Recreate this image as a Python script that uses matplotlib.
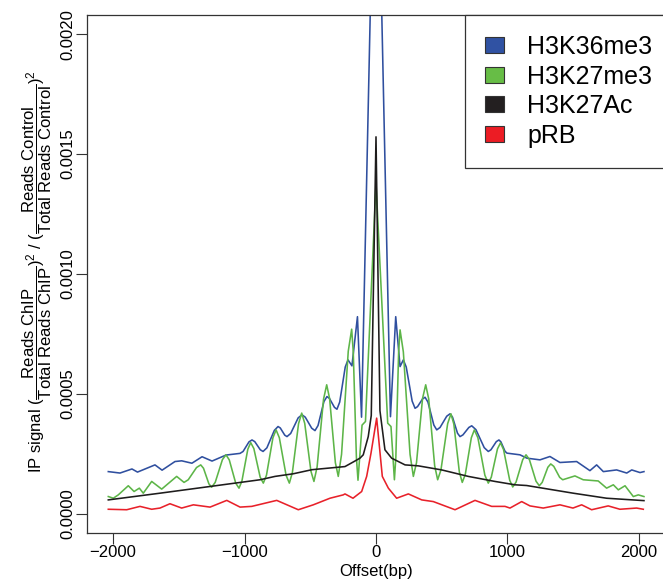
import numpy as np
import matplotlib
matplotlib.use("Agg")
import matplotlib.pyplot as plt
import matplotlib.patches as mpatches

plt.rcParams['font.family'] = ['Liberation Sans', 'DejaVu Sans']
plt.rcParams['mathtext.fontset'] = 'custom'
plt.rcParams['mathtext.rm'] = 'Liberation Sans'
plt.rcParams['mathtext.it'] = 'Liberation Sans:italic'
plt.rcParams['mathtext.bf'] = 'Liberation Sans:bold'

# offsets in bp, signal in units of 1e-4
k36_x = [-2036, -1947, -1856, -1814, -1681, -1627, -1529, -1478, -1400, -1323, -1247,
         -1141, -1034, -1011, -966, -943, -922, -880, -859, -830, -773, -745, -728, -694,
         -677, -649, -592, -563, -538, -489, -464, -441, -396, -373, -354, -316, -297,
         -276, -234, -213, -183, -141, -110, 0, 110, 150, 183, 208, 230, 275, 297, 316,
         354, 373, 395, 440, 462, 487, 538, 563, 582, 620, 639, 661, 706, 728, 760, 823,
         854, 874, 915, 935, 950, 981, 996, 1095, 1148, 1247, 1323, 1399, 1526, 1627,
         1678, 1729, 1830, 1907, 1945, 2008, 2038]
k36_y = [1.76, 1.70, 1.87, 1.74, 2.04, 1.82, 2.18, 2.21, 2.11, 2.38, 2.20,
         2.45, 2.52, 2.60, 3.00, 3.08, 3.01, 2.67, 2.60, 2.75, 3.48, 3.64, 3.58, 3.28,
         3.22, 3.35, 4.00, 4.13, 4.03, 3.57, 3.47, 3.68, 4.68, 4.89, 4.81, 4.44, 4.36,
         4.66, 6.12, 6.42, 6.17, 8.22, 4.03, 32.0, 4.05, 8.22, 6.14, 6.42, 6.12, 4.70, 4.40, 4.47,
         4.79, 4.86, 4.66, 3.70, 3.50, 3.60, 4.07, 4.17, 4.03, 3.36, 3.22, 3.29, 3.60, 3.67, 3.51, 2.76,
         2.60, 2.67, 3.01, 3.08, 3.00, 2.61, 2.53, 2.46, 2.32, 2.25, 2.39, 2.14, 2.18, 1.80,
         2.04, 1.76, 1.83, 1.70, 1.83, 1.72, 1.76]

k27me3_x = [-2036, -1998, -1960, -1884, -1840, -1800, -1770, -1706, -1630, -1516, -1460,
            -1428, -1365, -1333, -1312, -1271, -1250, -1223, -1168, -1141, -1116, -1067,
            -1042, -1020, -975, -953, -929, -881, -857, -833, -784, -760, -735, -684,
            -659, -636, -589, -565, -542, -495, -472, -448, -399, -375, -353, -309,
            -287, -262, -211, -185, -173, -149, -137, -106, -80, 0, 89, 114, 140, 151,
            172, 183, 208, 259, 284, 308, 354, 378, 401, 446, 469, 494, 545, 570, 592,
            634, 656, 679, 725, 748, 775, 828, 854, 877, 924, 947, 970, 1017, 1040,
            1065, 1116, 1141, 1166, 1217, 1242, 1264, 1307, 1329, 1352, 1397, 1420,
            1513, 1576, 1690, 1754, 1805, 1843, 1894, 1957, 1995, 2038]
k27me3_y = [0.72, 0.65, 0.79, 1.17, 0.93, 1.07, 0.86, 1.35, 1.03, 1.56, 1.31,
            1.42, 1.93, 2.04, 1.90, 1.25, 1.11, 1.31, 2.26, 2.46, 2.25, 1.28,
            1.07, 1.36, 2.69, 2.97, 2.72, 1.53, 1.28, 1.61, 3.17, 3.50, 3.17, 1.61,
            1.28, 1.72, 3.76, 4.20, 3.77, 1.78, 1.35, 1.95, 4.78, 5.38, 4.81, 2.13,
            1.56, 2.48, 6.78, 7.70, 6.75, 2.35, 1.40, 3.70, 3.85, 13.8, 3.78, 3.64, 1.42, 2.36,
            6.73, 7.67, 6.75, 2.48, 1.56, 2.13, 4.81, 5.38, 4.79, 2.01, 1.42, 1.83, 3.76, 4.17, 3.74,
            1.74, 1.31, 1.64, 3.17, 3.50, 3.17, 1.61, 1.28, 1.53, 2.71, 2.96, 2.68, 1.40, 1.12,
            1.32, 2.26, 2.46, 2.27, 1.36, 1.17, 1.31, 1.94, 2.08, 1.98, 1.52, 1.42,
            1.58, 1.42, 1.37, 1.07, 1.21, 1.00, 1.17, 0.72, 0.79, 0.72]

k27ac_x = [-2036, -1643, -1262, -1072, -882, -768, -629, -487, -236, -167, -122, -97,
           -59, -36, 0, 30, 68, 119, 221, 322, 500, 702, 905, 1057, 1146, 1500, 1754, 2038]
k27ac_y = [0.58, 0.86, 1.14, 1.28, 1.42, 1.56, 1.67, 1.84, 1.97, 2.18, 2.32, 2.46,
           3.22, 4.10, 15.72, 4.30, 2.67, 2.32, 2.04, 2.00, 1.83, 1.56, 1.35, 1.21, 1.18, 0.86, 0.65, 0.55]

prb_x = [-2036, -1896, -1795, -1706, -1643, -1567, -1478, -1389, -1262, -1135, -1034,
         -945, -755, -591, -477, -350, -249, -236, -175, -109, -71, -38, 5, 48, 94,
         157, 246, 348, 436, 601, 753, 880, 981, 1019, 1108, 1171, 1272, 1399, 1498,
         1564, 1640, 1766, 1855, 1982, 2033]
prb_y = [0.19, 0.17, 0.31, 0.19, 0.24, 0.42, 0.24, 0.375, 0.28, 0.56, 0.28,
         0.31, 0.56, 0.17, 0.375, 0.65, 0.79, 0.83, 0.65, 0.93, 1.56, 2.53, 3.99, 1.56, 1.07,
         0.65, 0.83, 0.58, 0.51, 0.17, 0.56, 0.31, 0.31, 0.24, 0.51, 0.33, 0.24, 0.375, 0.24,
         0.375, 0.17, 0.33, 0.19, 0.24, 0.19]

labels = ['H3K36me3', 'H3K27me3', 'H3K27Ac', 'pRB']
line_colors = ['#2f4f9f', '#5db548', '#1e1c1c', '#e8212a']
box_colors = ['#3052a3', '#67bd46', '#231f20', '#ec1c24']

fig = plt.figure(figsize=(6.63, 5.80), dpi=100)
ax = fig.add_axes([87/663, 47/580, 578/663, 518/580])

series = [(k36_x, k36_y), (k27me3_x, k27me3_y), (k27ac_x, k27ac_y), (prb_x, prb_y)]
for (xs, ys), c in zip(series, line_colors):
    ax.plot(xs, np.array(ys)*1e-4, color=c, lw=1.15, solid_joinstyle='round')

ax.set_xlim(-2198, 2198)
ax.set_ylim(-0.00008, 0.00208)
ax.set_xticks([-2000, -1000, 0, 1000, 2000])
ax.set_xticklabels(['\u22122000', '\u22121000', '0', '1000', '2000'])
ax.set_yticks([0, 0.0005, 0.001, 0.0015, 0.002])
ax.set_yticklabels(['0.0000', '0.0005', '0.0010', '0.0015', '0.0020'])
ax.tick_params(axis='both', direction='out', length=8, width=0.8, color='#333333',
               labelsize=12, pad=0.5)
for t in ax.get_yticklabels():
    t.set_rotation(90)
    t.set_va('center')

for s in ['left', 'bottom', 'top']:
    ax.spines[s].set_color('#333333')
    ax.spines[s].set_linewidth(0.9)
ax.spines['right'].set_visible(False)

ax.set_xlabel('Offset(bp)', fontsize=12, labelpad=3)
ax.set_ylabel(r'IP signal ${(\dfrac{\mathrm{Reads\ ChIP}}{\mathrm{Total\ Reads\ ChIP}})}^{2}$ / '
              r'${(\dfrac{\mathrm{Reads\ Control}}{\mathrm{Total\ Reads\ Control}})}^{2}$',
              fontsize=12, va='center')
ax.yaxis.set_label_coords(-0.0865, 0.505)

handles = [mpatches.Patch(facecolor=c, edgecolor='#333333', linewidth=0.8, label=l)
           for c, l in zip(box_colors, labels)]
leg = ax.legend(handles=handles, loc='upper left', bbox_to_anchor=(465/663, 1 - 15/580),
                bbox_transform=fig.transFigure, fontsize=18, frameon=True, fancybox=False,
                edgecolor='#333333', framealpha=1, borderpad=0.8, labelspacing=0.22,
                handlelength=0.76, handleheight=0.6, handletextpad=0.92, borderaxespad=0)
leg.get_frame().set_linewidth(0.9)

fig.savefig('out.png', dpi=100)
